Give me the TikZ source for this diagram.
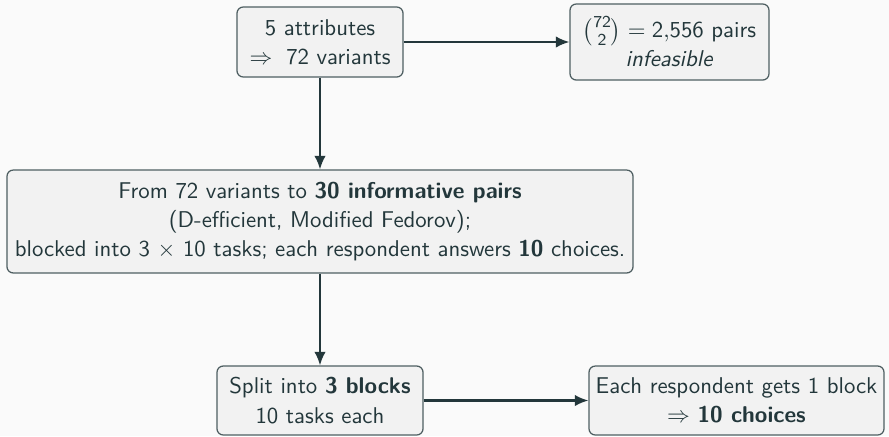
\documentclass[tikz,border=0pt]{standalone}
\usepackage{amsmath}
\usepackage{amssymb}
\usepackage{tikz}
\usetikzlibrary{arrows.meta}
\definecolor{darkteal}{HTML}{23373B}
\definecolor{boxfill}{HTML}{F2F2F2}
\definecolor{pagebg}{HTML}{FAFAFA}
\tikzset{
  stagebox/.style={draw=darkteal!80, fill=boxfill, rounded corners=3pt, line width=0.6pt,
    align=center, inner sep=0pt, text=darkteal, font=\sffamily\fontsize{10.95}{14}\selectfont},
  flowarrow/.style={draw=darkteal, line width=1pt, -{Latex[length=6.5pt,width=5.5pt]}}
}

\begin{document}
\begin{tikzpicture}[x=0.48pt,y=-0.48pt]
        \fill[pagebg] (0,0) rectangle (889,436);
        \useasboundingbox (0,0) rectangle (889,436);
        \node[stagebox, minimum width=79.7pt, minimum height=33.6pt] (attr) at (320,42)
            {5 attributes\\ $\Rightarrow\;$ 72 variants};
        \node[stagebox, minimum width=95.5pt, minimum height=36.5pt] (pairs) at (669.5,42)
            {$\binom{\mathsf{72}}{\mathsf{2}} = \mathsf{2{,}556}$ pairs\\ \textit{infeasible}};
        \node[stagebox, minimum width=300.5pt, minimum height=49.4pt] (design) at (320,221.5)
            {From 72 variants to \textbf{30 informative pairs}\\ (D-efficient, Modified Fedorov);\\ blocked into 3 $\times$ 10 tasks; each respondent answers \textbf{10} choices.};
        \node[stagebox, minimum width=98.9pt, minimum height=33.1pt] (blocks) at (320,400.5)
            {Split into \textbf{3 blocks}\\ 10 tasks each};
        \node[stagebox, minimum width=141.6pt, minimum height=33.1pt] (resp) at (736.5,400.5)
            {Each respondent gets 1 block\\ $\Rightarrow$ \textbf{10 choices}};
        \draw[flowarrow] (attr) -- (pairs);
        \draw[flowarrow] (attr) -- (design);
        \draw[flowarrow] (design) -- (blocks);
        \draw[flowarrow] (blocks) -- (resp);
    \end{tikzpicture}
\end{document}
